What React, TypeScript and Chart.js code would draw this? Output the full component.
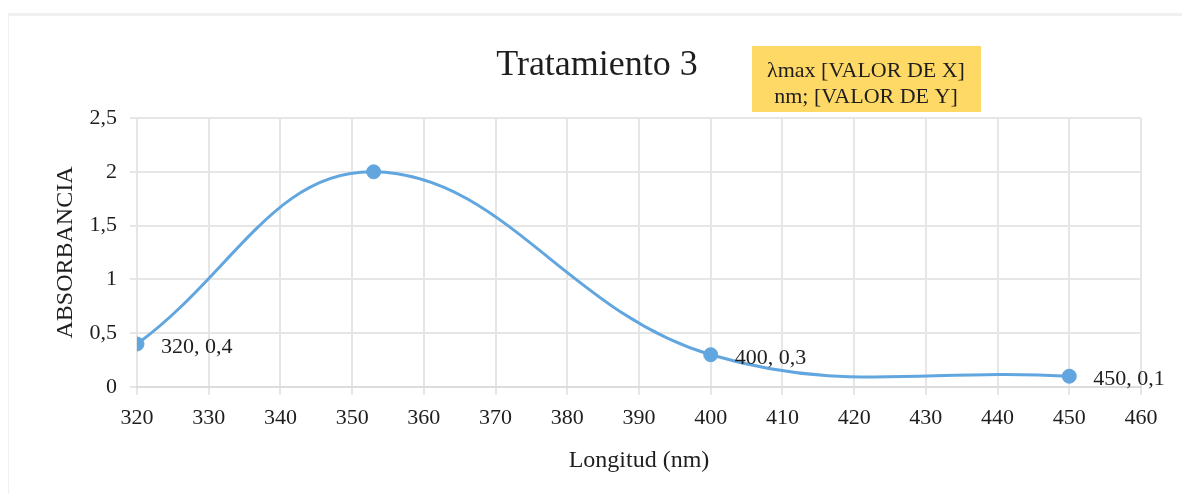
import React, { useEffect, useRef } from 'react';
import { Chart, registerables } from 'chart.js';

Chart.register(...registerables);

const chartTitle = 'Tratamiento 3';
const xAxisTitle = 'Longitud (nm)';
const yAxisTitle = 'ABSORBANCIA';
const wavelengths = [320, 353, 400, 450];
const absorbance = [0.4, 2, 0.3, 0.1];
const pointLabels = ['320, 0,4', '', '400, 0,3', '450, 0,1'];
const peakCallout = ['λmax [VALOR DE X]', 'nm; [VALOR DE Y]'];
const xTickLabels = ['320', '330', '340', '350', '360', '370', '380', '390', '400', '410', '420', '430', '440', '450', '460'];
const yTickLabels = ['0', '0,5', '1', '1,5', '2', '2,5'];

const FONT = '"Liberation Serif", "Times New Roman", serif';
const TEXT = '#1e1e1e';
const LINE = '#62a6df';
const GRID = '#e6e6e6';

const decorPlugin = {
  id: 'decor',
  afterDatasetsDraw(chart: any) {
    const ctx = chart.ctx;
    ctx.save();
    // title
    ctx.fillStyle = TEXT;
    ctx.font = `36px ${FONT}`;
    ctx.textAlign = 'center';
    ctx.textBaseline = 'alphabetic';
    ctx.fillText(chartTitle, 597, 75);

    // point labels
    const meta = chart.getDatasetMeta(0);
    ctx.font = `22px ${FONT}`;
    ctx.textAlign = 'left';
    meta.data.forEach((pt: any, i: number) => {
      const txt = pointLabels[i];
      if (!txt) return;
      ctx.fillText(txt, pt.x + 24, pt.y + 9);
    });

    // peak callout box
    ctx.fillStyle = '#ffd966';
    ctx.fillRect(752, 46, 229, 66);
    ctx.fillStyle = TEXT;
    ctx.font = `22px ${FONT}`;
    ctx.textAlign = 'center';
    ctx.fillText(peakCallout[0], 866, 77);
    ctx.fillText(peakCallout[1], 866, 103);
    ctx.restore();
  },
};

export default function App() {
  const ref = useRef<HTMLCanvasElement>(null);

  useEffect(() => {
    if (!ref.current) return;
    const chart = new Chart(ref.current, {
      type: 'scatter',
      data: {
        datasets: [
          {
            data: wavelengths.map((x, i) => ({ x, y: absorbance[i] })),
            showLine: true,
            borderColor: LINE,
            backgroundColor: LINE,
            borderWidth: 3,
            tension: 0.4,
            capBezierPoints: false,
            pointRadius: 7,
            pointBorderWidth: 1,
            pointBorderColor: LINE,
            pointBackgroundColor: LINE,
          } as any,
        ],
      },
      options: {
        animation: false,
        responsive: false,
        maintainAspectRatio: false,
        elements: { line: { capBezierPoints: false } },
        layout: { padding: { left: 0, right: 49, top: 118, bottom: 0 } },
        plugins: {
          legend: { display: false },
          title: { display: false },
          tooltip: { enabled: false },
        },
        scales: {
          x: {
            type: 'linear',
            min: 320,
            max: 460,
            afterFit: (s: any) => {
              s.height = 115;
            },
            ticks: {
              stepSize: 10,
              padding: 10,
              color: TEXT,
              font: { family: FONT, size: 22 },
              callback: (_v: any, i: number) => xTickLabels[i],
              maxRotation: 0,
            },
            grid: { color: GRID, lineWidth: 2, tickLength: 8, tickColor: GRID },
            border: { color: '#dcdcdc', width: 2 },
            title: {
              display: true,
              text: xAxisTitle,
              color: TEXT,
              font: { family: FONT, size: 24 },
              padding: { top: 0, bottom: 27 },
            },
          },
          y: {
            min: 0,
            max: 2.5,
            afterFit: (s: any) => {
              s.width = 137;
            },
            ticks: {
              stepSize: 0.5,
              padding: 13,
              color: TEXT,
              font: { family: FONT, size: 22 },
              callback: (_v: any, i: number) => yTickLabels[i],
            },
            grid: { color: GRID, lineWidth: 2, tickLength: 7, tickColor: GRID },
            border: { display: false },
            title: {
              display: true,
              text: yAxisTitle,
              color: TEXT,
              font: { family: FONT, size: 24 },
              padding: { top: 51, bottom: 0 },
            },
          },
        },
      },
      plugins: [decorPlugin],
    });
    return () => chart.destroy();
  }, []);

  return (
    <div style={{ position: 'relative', margin: -8, width: 1190, height: 502, overflow: 'hidden', background: '#fff' }}>
      <div
        style={{
          position: 'absolute',
          left: 6,
          top: 13,
          width: 1300,
          height: 600,
          border: '3px solid #f0f0f0',
          boxSizing: 'border-box',
        }}
      />
      <canvas ref={ref} width={1190} height={502} style={{ position: 'absolute', left: 0, top: 0 }} />
    </div>
  );
}
